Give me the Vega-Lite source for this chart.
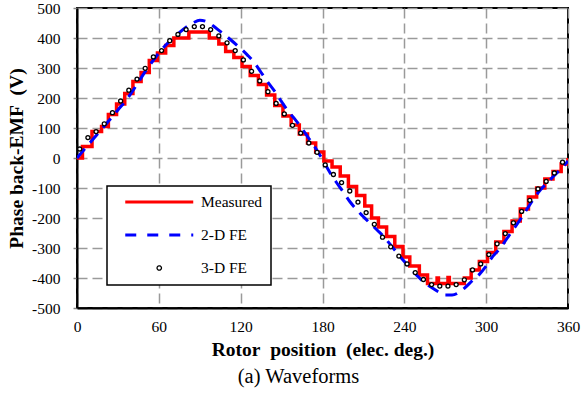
{
  "$schema": "https://vega.github.io/schema/vega-lite/v6.json",
  "width": 491,
  "height": 300,
  "autosize": {"type": "none"},
  "padding": {"left": 77, "top": 8, "right": 13, "bottom": 86},
  "background": "white",
  "config": {
    "font": "Liberation Serif",
    "view": {"stroke": "black", "strokeWidth": 2},
    "axis": {
      "labelFont": "Liberation Serif",
      "labelFontSize": 15.5,
      "labelColor": "black",
      "titleFont": "Liberation Serif",
      "titleFontSize": 19.5,
      "titleFontWeight": "bold",
      "titleColor": "black",
      "grid": true,
      "gridColor": "#9a9a9a",
      "gridWidth": 1.5,
      "gridDash": [10, 5],
      "domainColor": "black",
      "domainWidth": 2
    }
  },
  "title": {
    "text": "(a) Waveforms",
    "orient": "bottom",
    "anchor": "middle",
    "font": "Liberation Serif",
    "fontSize": 20.5,
    "fontWeight": "normal",
    "color": "black",
    "offset": 8,
    "dx": -24
  },
  "data": {
    "values": [
      {"series": "Measured", "deg": 0, "v": 0},
      {"series": "Measured", "deg": 4, "v": 38},
      {"series": "Measured", "deg": 11, "v": 88},
      {"series": "Measured", "deg": 18, "v": 105},
      {"series": "Measured", "deg": 23, "v": 145},
      {"series": "Measured", "deg": 29, "v": 180},
      {"series": "Measured", "deg": 35, "v": 215},
      {"series": "Measured", "deg": 41, "v": 255},
      {"series": "Measured", "deg": 47, "v": 285},
      {"series": "Measured", "deg": 53, "v": 325},
      {"series": "Measured", "deg": 59, "v": 350},
      {"series": "Measured", "deg": 65, "v": 375},
      {"series": "Measured", "deg": 71, "v": 400},
      {"series": "Measured", "deg": 82, "v": 420},
      {"series": "Measured", "deg": 97, "v": 400},
      {"series": "Measured", "deg": 104, "v": 380},
      {"series": "Measured", "deg": 109, "v": 355},
      {"series": "Measured", "deg": 115, "v": 335},
      {"series": "Measured", "deg": 121, "v": 305},
      {"series": "Measured", "deg": 127, "v": 275},
      {"series": "Measured", "deg": 133, "v": 245},
      {"series": "Measured", "deg": 139, "v": 210},
      {"series": "Measured", "deg": 145, "v": 175},
      {"series": "Measured", "deg": 151, "v": 140},
      {"series": "Measured", "deg": 157, "v": 110},
      {"series": "Measured", "deg": 163, "v": 80},
      {"series": "Measured", "deg": 169, "v": 50},
      {"series": "Measured", "deg": 175, "v": 20},
      {"series": "Measured", "deg": 181, "v": -10},
      {"series": "Measured", "deg": 187, "v": -30},
      {"series": "Measured", "deg": 193, "v": -60},
      {"series": "Measured", "deg": 199, "v": -95},
      {"series": "Measured", "deg": 205, "v": -125},
      {"series": "Measured", "deg": 211, "v": -160},
      {"series": "Measured", "deg": 216, "v": -200},
      {"series": "Measured", "deg": 221, "v": -230},
      {"series": "Measured", "deg": 227, "v": -262},
      {"series": "Measured", "deg": 233, "v": -295},
      {"series": "Measured", "deg": 239, "v": -330},
      {"series": "Measured", "deg": 244, "v": -360},
      {"series": "Measured", "deg": 251, "v": -390},
      {"series": "Measured", "deg": 257, "v": -418},
      {"series": "Measured", "deg": 264, "v": -400},
      {"series": "Measured", "deg": 265, "v": -418},
      {"series": "Measured", "deg": 272, "v": -398},
      {"series": "Measured", "deg": 273, "v": -418},
      {"series": "Measured", "deg": 284, "v": -400},
      {"series": "Measured", "deg": 289, "v": -373},
      {"series": "Measured", "deg": 295, "v": -345},
      {"series": "Measured", "deg": 301, "v": -315},
      {"series": "Measured", "deg": 307, "v": -280},
      {"series": "Measured", "deg": 313, "v": -245},
      {"series": "Measured", "deg": 319, "v": -210},
      {"series": "Measured", "deg": 325, "v": -170},
      {"series": "Measured", "deg": 331, "v": -130},
      {"series": "Measured", "deg": 337, "v": -100},
      {"series": "Measured", "deg": 343, "v": -70},
      {"series": "Measured", "deg": 349, "v": -45},
      {"series": "Measured", "deg": 355, "v": -20},
      {"series": "Measured", "deg": 360, "v": 0},

      {"series": "2-D FE", "deg": 0, "v": 0},
      {"series": "2-D FE", "deg": 5, "v": 27},
      {"series": "2-D FE", "deg": 10, "v": 53},
      {"series": "2-D FE", "deg": 15, "v": 80},
      {"series": "2-D FE", "deg": 20, "v": 106},
      {"series": "2-D FE", "deg": 25, "v": 133},
      {"series": "2-D FE", "deg": 30, "v": 160},
      {"series": "2-D FE", "deg": 35, "v": 187},
      {"series": "2-D FE", "deg": 40, "v": 218},
      {"series": "2-D FE", "deg": 45, "v": 253},
      {"series": "2-D FE", "deg": 50, "v": 288},
      {"series": "2-D FE", "deg": 55, "v": 320},
      {"series": "2-D FE", "deg": 60, "v": 350},
      {"series": "2-D FE", "deg": 65, "v": 376},
      {"series": "2-D FE", "deg": 70, "v": 398},
      {"series": "2-D FE", "deg": 75, "v": 418},
      {"series": "2-D FE", "deg": 80, "v": 436},
      {"series": "2-D FE", "deg": 85, "v": 450},
      {"series": "2-D FE", "deg": 90, "v": 459},
      {"series": "2-D FE", "deg": 95, "v": 455},
      {"series": "2-D FE", "deg": 100, "v": 440},
      {"series": "2-D FE", "deg": 105, "v": 422},
      {"series": "2-D FE", "deg": 110, "v": 404},
      {"series": "2-D FE", "deg": 115, "v": 385},
      {"series": "2-D FE", "deg": 120, "v": 365},
      {"series": "2-D FE", "deg": 125, "v": 343},
      {"series": "2-D FE", "deg": 130, "v": 318},
      {"series": "2-D FE", "deg": 135, "v": 285},
      {"series": "2-D FE", "deg": 140, "v": 252},
      {"series": "2-D FE", "deg": 145, "v": 222},
      {"series": "2-D FE", "deg": 150, "v": 188},
      {"series": "2-D FE", "deg": 155, "v": 155},
      {"series": "2-D FE", "deg": 160, "v": 128},
      {"series": "2-D FE", "deg": 165, "v": 98},
      {"series": "2-D FE", "deg": 170, "v": 65},
      {"series": "2-D FE", "deg": 175, "v": 32},
      {"series": "2-D FE", "deg": 180, "v": -5},
      {"series": "2-D FE", "deg": 185, "v": -45},
      {"series": "2-D FE", "deg": 190, "v": -80},
      {"series": "2-D FE", "deg": 195, "v": -112},
      {"series": "2-D FE", "deg": 200, "v": -145},
      {"series": "2-D FE", "deg": 205, "v": -172},
      {"series": "2-D FE", "deg": 210, "v": -196},
      {"series": "2-D FE", "deg": 215, "v": -218},
      {"series": "2-D FE", "deg": 220, "v": -240},
      {"series": "2-D FE", "deg": 225, "v": -262},
      {"series": "2-D FE", "deg": 230, "v": -290},
      {"series": "2-D FE", "deg": 235, "v": -318},
      {"series": "2-D FE", "deg": 240, "v": -345},
      {"series": "2-D FE", "deg": 245, "v": -370},
      {"series": "2-D FE", "deg": 250, "v": -395},
      {"series": "2-D FE", "deg": 255, "v": -416},
      {"series": "2-D FE", "deg": 260, "v": -432},
      {"series": "2-D FE", "deg": 265, "v": -446},
      {"series": "2-D FE", "deg": 270, "v": -457},
      {"series": "2-D FE", "deg": 275, "v": -457},
      {"series": "2-D FE", "deg": 280, "v": -448},
      {"series": "2-D FE", "deg": 285, "v": -430},
      {"series": "2-D FE", "deg": 290, "v": -408},
      {"series": "2-D FE", "deg": 295, "v": -388},
      {"series": "2-D FE", "deg": 300, "v": -360},
      {"series": "2-D FE", "deg": 305, "v": -327},
      {"series": "2-D FE", "deg": 310, "v": -303},
      {"series": "2-D FE", "deg": 315, "v": -270},
      {"series": "2-D FE", "deg": 320, "v": -238},
      {"series": "2-D FE", "deg": 325, "v": -205},
      {"series": "2-D FE", "deg": 330, "v": -170},
      {"series": "2-D FE", "deg": 335, "v": -135},
      {"series": "2-D FE", "deg": 340, "v": -105},
      {"series": "2-D FE", "deg": 345, "v": -82},
      {"series": "2-D FE", "deg": 350, "v": -58},
      {"series": "2-D FE", "deg": 355, "v": -36},
      {"series": "2-D FE", "deg": 360, "v": -10},

      {"series": "3-D FE", "deg": 2, "v": 30},
      {"series": "3-D FE", "deg": 8, "v": 68},
      {"series": "3-D FE", "deg": 14, "v": 88},
      {"series": "3-D FE", "deg": 20, "v": 114},
      {"series": "3-D FE", "deg": 26, "v": 151},
      {"series": "3-D FE", "deg": 32, "v": 190},
      {"series": "3-D FE", "deg": 38, "v": 226},
      {"series": "3-D FE", "deg": 44, "v": 263},
      {"series": "3-D FE", "deg": 50, "v": 299},
      {"series": "3-D FE", "deg": 56, "v": 337},
      {"series": "3-D FE", "deg": 62, "v": 358},
      {"series": "3-D FE", "deg": 68, "v": 391},
      {"series": "3-D FE", "deg": 74, "v": 412},
      {"series": "3-D FE", "deg": 80, "v": 428},
      {"series": "3-D FE", "deg": 86, "v": 438},
      {"series": "3-D FE", "deg": 92, "v": 438},
      {"series": "3-D FE", "deg": 98, "v": 428},
      {"series": "3-D FE", "deg": 104, "v": 407},
      {"series": "3-D FE", "deg": 110, "v": 384},
      {"series": "3-D FE", "deg": 116, "v": 358},
      {"series": "3-D FE", "deg": 122, "v": 327},
      {"series": "3-D FE", "deg": 128, "v": 289},
      {"series": "3-D FE", "deg": 134, "v": 257},
      {"series": "3-D FE", "deg": 140, "v": 221},
      {"series": "3-D FE", "deg": 146, "v": 182},
      {"series": "3-D FE", "deg": 152, "v": 147},
      {"series": "3-D FE", "deg": 158, "v": 109},
      {"series": "3-D FE", "deg": 164, "v": 83},
      {"series": "3-D FE", "deg": 170, "v": 50},
      {"series": "3-D FE", "deg": 176, "v": 19},
      {"series": "3-D FE", "deg": 182, "v": -23},
      {"series": "3-D FE", "deg": 188, "v": -55},
      {"series": "3-D FE", "deg": 194, "v": -82},
      {"series": "3-D FE", "deg": 200, "v": -110},
      {"series": "3-D FE", "deg": 206, "v": -147},
      {"series": "3-D FE", "deg": 212, "v": -182},
      {"series": "3-D FE", "deg": 218, "v": -221},
      {"series": "3-D FE", "deg": 224, "v": -264},
      {"series": "3-D FE", "deg": 230, "v": -296},
      {"series": "3-D FE", "deg": 236, "v": -327},
      {"series": "3-D FE", "deg": 242, "v": -353},
      {"series": "3-D FE", "deg": 248, "v": -382},
      {"series": "3-D FE", "deg": 254, "v": -405},
      {"series": "3-D FE", "deg": 260, "v": -422},
      {"series": "3-D FE", "deg": 266, "v": -427},
      {"series": "3-D FE", "deg": 272, "v": -427},
      {"series": "3-D FE", "deg": 278, "v": -422},
      {"series": "3-D FE", "deg": 284, "v": -406},
      {"series": "3-D FE", "deg": 290, "v": -373},
      {"series": "3-D FE", "deg": 296, "v": -353},
      {"series": "3-D FE", "deg": 302, "v": -322},
      {"series": "3-D FE", "deg": 308, "v": -286},
      {"series": "3-D FE", "deg": 314, "v": -252},
      {"series": "3-D FE", "deg": 320, "v": -216},
      {"series": "3-D FE", "deg": 326, "v": -178},
      {"series": "3-D FE", "deg": 332, "v": -141},
      {"series": "3-D FE", "deg": 338, "v": -103},
      {"series": "3-D FE", "deg": 344, "v": -78},
      {"series": "3-D FE", "deg": 350, "v": -50},
      {"series": "3-D FE", "deg": 356, "v": -14}
    ]
  },
  "encoding": {
    "x": {
      "field": "deg",
      "type": "quantitative",
      "scale": {"domain": [0, 360], "nice": false},
      "axis": {
        "values": [0, 60, 120, 180, 240, 300, 360],
        "title": "Rotor\u00a0 position\u00a0 (elec. deg.)",
        "labelFont": "Liberation Serif",
        "labelFontSize": 15.5,
        "ticks": false,
        "labelPadding": 11,
        "labelFlush": false,
        "titleX": 245.5,
        "titleY": 41,
        "titleBaseline": "middle",
        "titleAlign": "center"
      }
    },
    "y": {
      "field": "v",
      "type": "quantitative",
      "scale": {"domain": [-500, 500], "nice": false},
      "axis": {
        "values": [-500, -400, -300, -200, -100, 0, 100, 200, 300, 400, 500],
        "labelExpr": "'' + datum.value",
        "title": "Phase back-EMF\u00a0 (V)",
        "labelFont": "Liberation Serif",
        "labelFontSize": 15.5,
        "ticks": true,
        "tickSize": 4,
        "tickColor": "#888888",
        "tickWidth": 1.5,
        "labelPadding": 13,
        "labelFlush": false,
        "titleX": -61,
        "titleY": 150,
        "titleAngle": -90,
        "titleBaseline": "middle",
        "titleAlign": "center"
      }
    }
  },
  "layer": [
    {
      "transform": [{"filter": "datum.series === 'Measured'"}],
      "mark": {"type": "line", "interpolate": "step-after", "strokeWidth": 3.5, "strokeJoin": "miter", "clip": true},
      "encoding": {
        "color": {
          "field": "series",
          "type": "nominal",
          "scale": {"domain": ["Measured", "2-D FE", "3-D FE"], "range": ["#ff0000", "#0000ff", "#000000"]},
          "legend": {
            "orient": "none",
            "legendX": 30,
            "legendY": 178,
            "direction": "vertical",
            "title": null,
            "strokeColor": "black",
            "fillColor": "white",
            "padding": 8,
            "clipHeight": 16,
            "rowPadding": 16,
            "symbolOffset": 36.5,
            "symbolType": "stroke",
            "symbolSize": 4624,
            "symbolStrokeWidth": 3,
            "labelFont": "Liberation Serif",
            "labelFontSize": 15.5,
            "labelColor": "black",
            "labelOffset": 34,
            "labelExpr": "datum.label + '\u2003\u2003\u2003\u2002'",
            "encode": {
              "legend": {
                "update": {"strokeWidth": {"value": 1.5}}
              },
              "symbols": {
                "update": {
                  "shape": {"signal": "datum.value === '3-D FE' ? 'M-0.065,0A0.065,0.065,0,1,1,0.065,0A0.065,0.065,0,1,1,-0.065,0Z' : 'stroke'"},
                  "strokeDash": {"signal": "datum.value === '2-D FE' ? [11, 11] : [1, 0]"},
                  "strokeWidth": {"signal": "datum.value === '3-D FE' ? 1.3 : 3"},
                  "fill": {"signal": "datum.value === '3-D FE' ? 'white' : 'transparent'"},
                  "stroke": {"signal": "datum.value === 'Measured' ? '#ff0000' : datum.value === '2-D FE' ? '#0000ff' : '#000000'"}
                }
              }
            }
          }
        }
      }
    },
    {
      "transform": [{"filter": "datum.series === '2-D FE'"}],
      "mark": {"type": "line", "interpolate": "monotone", "strokeWidth": 3, "strokeDash": [12, 8], "clip": true},
      "encoding": {
        "color": {"field": "series", "type": "nominal"}
      }
    },
    {
      "transform": [{"filter": "datum.series === '3-D FE'"}],
      "mark": {"type": "point", "shape": "circle", "filled": true, "fill": "white", "stroke": "black", "strokeWidth": 1.3, "size": 16, "opacity": 1}
    }
  ]
}
